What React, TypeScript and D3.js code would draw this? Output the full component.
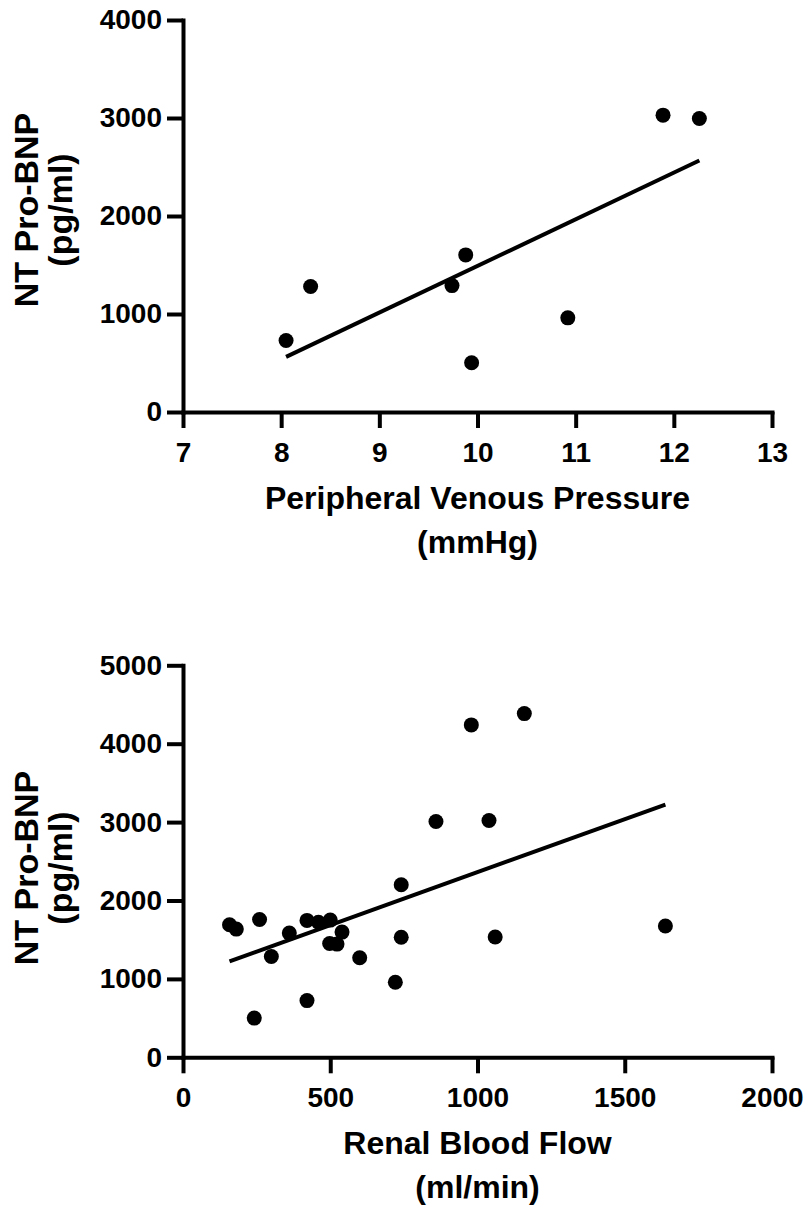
import React, { useEffect, useRef } from "react";
import * as d3 from "d3";

const pvpX = [8.05, 8.3, 9.74, 9.88, 9.94, 10.92, 11.89, 12.26];
const pvpY = [730, 1280, 1290, 1603, 503, 961, 3029, 2995];
const pvpXTicks = [7, 8, 9, 10, 11, 12, 13];
const pvpYTicks = [0, 1000, 2000, 3000, 4000];

const rbfX = [158, 181, 260, 242, 300, 361, 421, 421, 460, 500, 540, 498, 523, 600, 721, 741, 741, 859, 979, 1039, 1060, 1159, 1638];
const rbfY = [1690, 1635, 1758, 500, 1286, 1584, 1746, 723, 1722, 1750, 1597, 1452, 1444, 1270, 957, 2200, 1532, 3008, 4240, 3020, 1534, 4384, 1674];
const rbfXTicks = [0, 500, 1000, 1500, 2000];
const rbfYTicks = [0, 1000, 2000, 3000, 4000, 5000];

const yTitle = ["NT Pro-BNP", "(pg/ml)"];
const pvpXTitle = ["Peripheral Venous Pressure", "(mmHg)"];
const rbfXTitle = ["Renal Blood Flow", "(ml/min)"];

const FONT = "'Liberation Sans', Arial, Helvetica, sans-serif";

function drawPanel(
  g: d3.Selection<SVGGElement, unknown, null, undefined>,
  xs: number[],
  ys: number[],
  xDomain: [number, number],
  yDomain: [number, number],
  xTicks: number[],
  yTicks: number[],
  xTitle: string[],
  top: number,
  yTitleCenter: number
) {
  const left = 183;
  const right = 772;
  const h = 392;
  const x = d3.scaleLinear().domain(xDomain).range([left, right]);
  const y = d3.scaleLinear().domain(yDomain).range([top + h, top]);
  const sw = 4;

  const xAxis = g
    .append("g")
    .attr("transform", `translate(0,${top + h})`)
    .call(d3.axisBottom(x).tickValues(xTicks).tickSize(16).tickSizeOuter(0).tickPadding(14).tickFormat(d3.format("d")));
  const yAxis = g
    .append("g")
    .attr("transform", `translate(${left},0)`)
    .call(d3.axisLeft(y).tickValues(yTicks).tickSize(16).tickSizeOuter(0).tickPadding(5).tickFormat(d3.format("d")));

  [xAxis, yAxis].forEach((a) => {
    a.attr("font-size", 28).attr("font-family", FONT).attr("font-weight", "bold");
    a.select(".domain").attr("stroke", "#000").attr("stroke-width", sw).attr("stroke-linecap", "square");
    a.selectAll(".tick line").attr("stroke", "#000").attr("stroke-width", sw);
    a.selectAll(".tick text")
      .attr("fill", "#000")
      .attr("font-family", FONT)
      .attr("font-weight", "bold")
      .attr("font-size", 28);
  });

  // least-squares regression line over the data range
  const mx = d3.mean(xs) as number;
  const my = d3.mean(ys) as number;
  let sxy = 0;
  let sxx = 0;
  xs.forEach((v, i) => {
    sxy += (v - mx) * (ys[i] - my);
    sxx += (v - mx) * (v - mx);
  });
  const slope = sxy / sxx;
  const icpt = my - slope * mx;
  const [x0, x1] = d3.extent(xs) as [number, number];
  const line = d3
    .line<number>()
    .x((d) => x(d))
    .y((d) => y(icpt + slope * d));
  g.append("path")
    .attr("d", line([x0, x1]))
    .attr("stroke", "#000")
    .attr("stroke-width", 4)
    .attr("fill", "none");

  g.append("g")
    .selectAll("circle")
    .data(xs.map((v, i) => [v, ys[i]]))
    .join("circle")
    .attr("cx", (d) => x(d[0]))
    .attr("cy", (d) => y(d[1]))
    .attr("r", 7.5)
    .attr("fill", "#000");

  // x title
  const cx = (left + right) / 2;
  xTitle.forEach((t, i) => {
    g.append("text")
      .attr("x", cx)
      .attr("y", top + h + 97 + i * 44)
      .attr("text-anchor", "middle")
      .attr("font-family", FONT)
      .attr("font-weight", "bold")
      .attr("font-size", 32)
      .attr("fill", "#000")
      .text(t);
  });

  // y title
  yTitle.forEach((t, i) => {
    g.append("text")
      .attr("transform", `translate(${38 + i * 34},${yTitleCenter}) rotate(-90)`)
      .attr("text-anchor", "middle")
      .attr("font-family", FONT)
      .attr("font-weight", "bold")
      .attr("font-size", 34)
      .attr("fill", "#000")
      .text(t);
  });
}

export default function App() {
  const ref = useRef<SVGSVGElement>(null);
  useEffect(() => {
    const svg = d3.select(ref.current);
    svg.selectAll("*").remove();
    const g1 = svg.append("g");
    drawPanel(g1, pvpX, pvpY, [7, 13], [0, 4000], pvpXTicks, pvpYTicks, pvpXTitle, 20, 210);
    const g2 = svg.append("g");
    drawPanel(g2, rbfX, rbfY, [0, 2000], [0, 5000], rbfXTicks, rbfYTicks, rbfXTitle, 665.3, 868);
  }, []);
  return (
    <svg
      ref={ref}
      width={809}
      height={1207}
      style={{ position: "absolute", left: 0, top: 0, background: "#fff" }}
    />
  );
}
